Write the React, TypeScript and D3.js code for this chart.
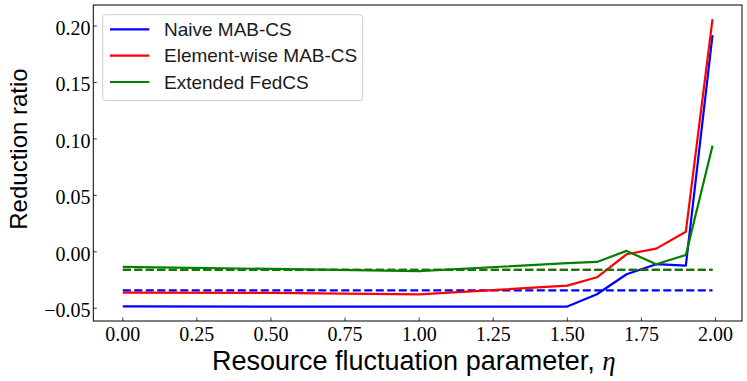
import React from "react";
import * as d3 from "d3";

// eta values (last point is 1.99)
const etas = [0, 0.5, 1.0, 1.5, 1.6, 1.7, 1.8, 1.9, 1.99];

const naive = [-0.0484, -0.0485, -0.0486, -0.0485, -0.0376, -0.0199, -0.011, -0.0123, 0.192];
const elementWise = [-0.0362, -0.0364, -0.0377, -0.03, -0.0226, -0.0022, 0.0028, 0.0178, 0.206];
const fedcs = [-0.0134, -0.0152, -0.0172, -0.01, -0.009, 0.0008, -0.011, -0.0028, 0.0939];

// baselines (dashed)
const naiveBase = -0.0341;
const elementBase = -0.0161;
const fedcsBase = -0.0161;

const seriesNames = ["Naive MAB-CS", "Element-wise MAB-CS", "Extended FedCS"];
const seriesColors = ["#0000ff", "#ff0000", "#008000"];

const xTicks = [0, 0.25, 0.5, 0.75, 1.0, 1.25, 1.5, 1.75, 2.0];
const yTicks = [-0.05, 0, 0.05, 0.1, 0.15, 0.2];
const yLimits = [-0.0613, 0.2186];

const W = 747;
const H = 381;
const plot = { left: 93.3, right: 742, top: 5, bottom: 321 };

const fmt = (v: number) => {
  const s = Math.abs(v).toFixed(2);
  return v < -1e-9 ? "\u2212" + s : s;
};

const App = () => {
  const series = [naive, elementWise, fedcs];
  const bases = [naiveBase, elementBase, fedcsBase];

  const xMin = d3.min(etas) as number;
  const xMax = d3.max(etas) as number;
  const xPad = (xMax - xMin) * 0.05;

  const xScale = d3
    .scaleLinear()
    .domain([xMin - xPad, xMax + xPad])
    .range([plot.left, plot.right]);
  const yScale = d3.scaleLinear().domain(yLimits).range([plot.bottom, plot.top]);

  const line = d3
    .line<[number, number]>()
    .x((d) => xScale(d[0]))
    .y((d) => yScale(d[1]));

  const tickFont = "'Liberation Serif', 'DejaVu Serif', serif";
  const sansFont = "'Liberation Sans', Arial, sans-serif";

  return (
    <svg
      width={W}
      height={H}
      style={{ position: "absolute", left: 0, top: 0, background: "#fff" }}
    >
      {/* data */}
      {series.map((s, i) => (
        <g key={"s" + i}>
          <path
            d={line(etas.map((e, j) => [e, s[j]]) as [number, number][]) || ""}
            fill="none"
            stroke={seriesColors[i]}
            strokeWidth={2.2}
            strokeLinejoin="round"
          />
          <path
            d={line([[xMin, bases[i]], [xMax, bases[i]]]) || ""}
            fill="none"
            stroke={seriesColors[i]}
            strokeWidth={2.2}
            strokeDasharray="8,3.5"
          />
        </g>
      ))}

      {/* frame */}
      <rect
        x={plot.left}
        y={plot.top}
        width={plot.right - plot.left}
        height={plot.bottom - plot.top}
        fill="none"
        stroke="#000"
        strokeWidth={1}
      />

      {/* x ticks */}
      {xTicks.map((t) => (
        <g key={"x" + t}>
          <line
            x1={xScale(t)}
            x2={xScale(t)}
            y1={plot.bottom}
            y2={plot.bottom - 3.5}
            stroke="#000"
            strokeWidth={0.8}
          />
          <text
            x={xScale(t)}
            y={plot.bottom + 19.7}
            textAnchor="middle"
            fontFamily={tickFont}
            fontSize={20}
            fill="#000"
          >
            {fmt(t)}
          </text>
        </g>
      ))}

      {/* y ticks */}
      {yTicks.map((t) => (
        <g key={"y" + t}>
          <line
            x1={plot.left}
            x2={plot.left + 3.5}
            y1={yScale(t)}
            y2={yScale(t)}
            stroke="#000"
            strokeWidth={0.8}
          />
          <text
            x={plot.left - 2.8}
            y={yScale(t) + 9}
            textAnchor="end"
            fontFamily={tickFont}
            fontSize={20}
            fill="#000"
          >
            {fmt(t)}
          </text>
        </g>
      ))}

      {/* axis labels */}
      <text
        x={212}
        y={370}
        textAnchor="start"
        fontFamily={sansFont}
        fontSize={27}
        fill="#000"
      >
        Resource fluctuation parameter,{" "}
        <tspan fontFamily={tickFont} fontStyle="italic">
          η
        </tspan>
      </text>
      <text
        transform={`translate(26.7,149) rotate(-90)`}
        textAnchor="middle"
        fontFamily={sansFont}
        fontSize={24}
        fill="#000"
      >
        Reduction ratio
      </text>

      {/* legend */}
      <g>
        <rect
          x={102.7}
          y={14.7}
          width={260}
          height={86}
          rx={3}
          fill="#fff"
          fillOpacity={0.8}
          stroke="#cccccc"
          strokeWidth={1}
        />
        {seriesNames.map((name, i) => (
          <g key={name} transform={`translate(0,${29.3 + i * 26.35})`}>
            <line x1={110} x2={149.3} y1={0} y2={0} stroke={seriesColors[i]} strokeWidth={2.2} />
            <text
              x={164}
              y={0}
              dy="0.35em"
              fontFamily={sansFont}
              fontSize={19}
              fill="#1a1a1a"
            >
              {name}
            </text>
          </g>
        ))}
      </g>
    </svg>
  );
};

export default App;
